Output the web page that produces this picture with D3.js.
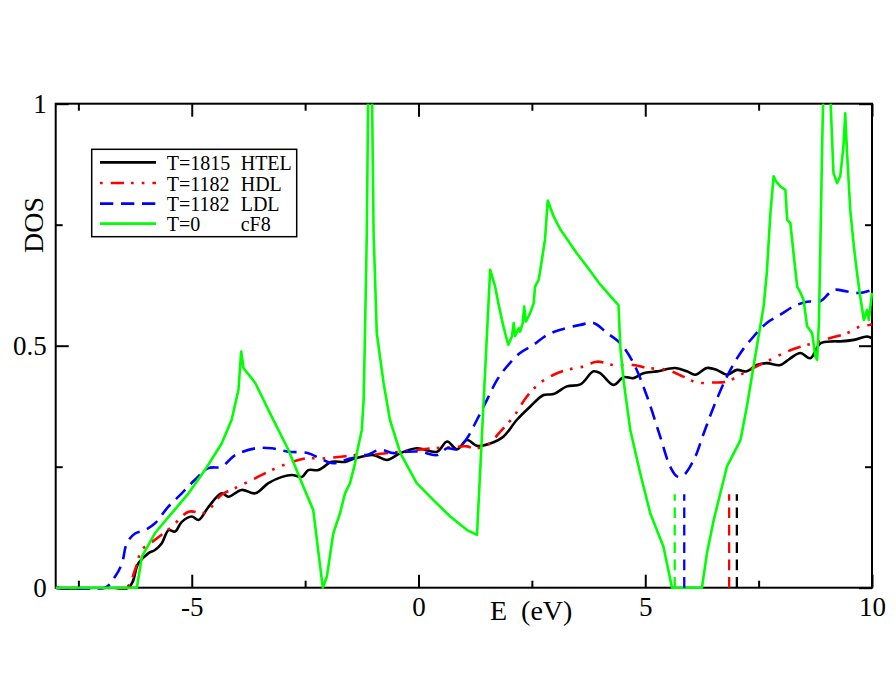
<!DOCTYPE html>
<html><head><meta charset="utf-8">
<script src="https://cdn.jsdelivr.net/npm/d3@7/dist/d3.min.js"></script>
<style>
html,body{margin:0;padding:0;background:#fff;}
svg{display:block;}
text{font-family:"Liberation Serif","Times New Roman",serif;fill:#000;}
</style></head>
<body>
<svg id="chart" width="896" height="692"></svg>
<script>
// ---- data ----
const htelE   = [-8,-6.4,-6.18,-5.96,-5.81,-5.66,-5.51,-5.37,-5.22,-5.0,-4.85,-4.63,-4.34,-4.19,-3.9,-3.6,-3.31,-3.01,-2.79,-2.57,-2.43,-2.21,-1.91,-1.62,-1.40,-0.99,-0.70,-0.40,-0.04,0.41,0.63,0.85,1.07,1.29,1.58,1.87,2.17,2.46,2.76,2.98,3.27,3.57,3.86,4.01,4.30,4.52,4.74,4.96,5.26,5.66,5.92,6.10,6.36,6.58,6.80,7.02,7.24,7.46,7.68,7.98,8.20,8.42,8.64,8.86,9.15,9.30,9.60,9.89,10.0];
const htelDOS = [0,0,0.05,0.071,0.078,0.092,0.119,0.116,0.136,0.147,0.14,0.167,0.195,0.188,0.202,0.195,0.216,0.229,0.233,0.229,0.243,0.243,0.26,0.26,0.267,0.274,0.264,0.278,0.288,0.281,0.302,0.286,0.305,0.293,0.298,0.312,0.347,0.374,0.398,0.40,0.416,0.42,0.447,0.443,0.419,0.435,0.433,0.443,0.447,0.454,0.447,0.44,0.454,0.45,0.44,0.45,0.447,0.46,0.464,0.46,0.474,0.485,0.474,0.505,0.509,0.509,0.512,0.519,0.515];

const hdlE   = [-8,-6.45,-6.25,-6.10,-5.81,-5.44,-5.07,-4.71,-4.34,-3.97,-3.60,-3.24,-2.87,-2.50,-2.13,-1.77,-1.40,-1.14,-0.40,0.33,0.70,1.07,1.21,1.51,1.80,2.10,2.39,2.68,2.98,3.27,3.64,3.93,4.30,4.74,5.04,5.48,5.84,6.14,6.51,6.80,7.10,7.39,7.76,8.13,8.42,8.71,9.08,9.45,9.74,9.96,10];
const hdlDOS = [0,0,0.037,0.078,0.099,0.126,0.157,0.155,0.192,0.209,0.226,0.243,0.257,0.267,0.267,0.27,0.274,0.274,0.281,0.288,0.29,0.292,0.288,0.294,0.322,0.354,0.395,0.423,0.44,0.45,0.457,0.467,0.46,0.46,0.454,0.45,0.436,0.424,0.424,0.426,0.44,0.454,0.471,0.488,0.498,0.505,0.516,0.526,0.54,0.543,0.545];

const ldlE   = [-8,-6.91,-6.69,-6.54,-6.43,-6.25,-6.03,-5.81,-5.52,-5.22,-4.93,-4.63,-4.34,-4.04,-3.60,-3.24,-2.87,-2.43,-2.17,-1.88,-1.51,-1.14,-0.85,-0.55,-0.26,0.04,0.41,0.63,0.85,1.07,1.29,1.51,1.73,1.95,2.24,2.54,2.83,3.13,3.57,3.86,4.16,4.45,4.74,5.04,5.33,5.55,5.70,5.84,6.07,6.29,6.51,6.80,7.10,7.39,7.68,7.98,8.27,8.57,8.86,9.15,9.45,9.74,10];
const ldlDOS = [0,0,0.023,0.05,0.092,0.112,0.119,0.133,0.167,0.195,0.223,0.247,0.25,0.274,0.288,0.288,0.281,0.278,0.267,0.257,0.267,0.274,0.285,0.278,0.281,0.281,0.274,0.288,0.286,0.309,0.347,0.388,0.429,0.457,0.485,0.502,0.522,0.533,0.543,0.547,0.526,0.505,0.464,0.395,0.312,0.25,0.23,0.232,0.264,0.319,0.374,0.436,0.485,0.519,0.547,0.564,0.581,0.591,0.592,0.615,0.612,0.609,0.615];

const cf8E   = [-8,-6.21,-6.10,-5.81,-5.44,-5.07,-4.71,-4.34,-4.12,-3.97,-3.91,-3.86,-3.60,-3.24,-2.87,-2.57,-2.35,-2.32,-2.19,-2.11,-2.02,-1.88,-1.73,-1.62,-1.51,-1.40,-1.36,-1.25,-1.21,-1.18,-1.14,-1.07,-0.99,-0.92,-0.77,-0.63,-0.40,-0.04,0.33,0.70,1.07,1.29,1.58,1.69,1.76,1.84,1.91,1.98,2.06,2.10,2.13,2.21,2.24,2.30,2.33,2.37,2.46,2.54,2.57,2.65,2.72,2.79,2.85,2.98,3.13,3.49,3.71,4.01,4.30,4.41,4.45,4.52,4.67,4.89,5.11,5.40,5.59,6.25,6.36,6.51,6.80,7.10,7.24,7.46,7.61,7.68,7.76,7.83,7.88,7.98,8.09,8.13,8.20,8.27,8.35,8.42,8.49,8.57,8.68,8.75,8.79,8.83,8.87,8.90,8.98,9.15,9.23,9.30,9.37,9.41,9.45,9.52,9.60,9.67,9.74,9.82,9.89,9.93,10.0];
const cf8DOS = [0,0,0.064,0.113,0.154,0.195,0.243,0.298,0.347,0.409,0.488,0.454,0.423,0.354,0.285,0.216,0.167,0.16,0.06,0,0.023,0.112,0.154,0.195,0.216,0.257,0.278,0.326,0.388,0.526,0.733,1.4,0.733,0.526,0.423,0.347,0.278,0.216,0.181,0.147,0.119,0.109,0.657,0.622,0.588,0.553,0.526,0.502,0.519,0.547,0.52,0.536,0.529,0.547,0.581,0.55,0.567,0.588,0.622,0.636,0.677,0.72,0.80,0.767,0.74,0.691,0.664,0.626,0.595,0.584,0.498,0.429,0.326,0.236,0.154,0.085,0,0,0.071,0.14,0.25,0.305,0.374,0.498,0.581,0.65,0.774,0.85,0.84,0.829,0.822,0.76,0.753,0.691,0.622,0.61,0.595,0.54,0.526,0.478,0.471,0.55,0.75,0.91,1.25,0.857,0.836,0.85,0.912,0.98,0.898,0.781,0.705,0.65,0.602,0.553,0.574,0.553,0.609];

const fermiE = [5.65, 5.86, 6.85, 7.02];
const fermiColors = ["#00ff00", "#0000ff", "#ff0000", "#000000"];
const fermiTop = 0.193;

const seriesLabels = ["T=1815", "T=1182", "T=1182", "T=0"];
const seriesPhase  = ["HTEL", "HDL", "LDL", "cF8"];
const seriesColors = ["#000000", "#ff0000", "#0000ff", "#00ff00"];
const seriesDash   = [null, "13.3,7,2.7,8,2.7,8", "13.3,7.7", null];

const xMajorTicks = [-5, 0, 5, 10];
const xMinorTicks = [-7.5, -2.5, 2.5, 7.5];
const xTickLabels = ["-5", "0", "5", "10"];
const yMajorTicks = [0, 0.5, 1];
const yMinorTicks = [0.25, 0.75];
const yTickLabels = ["0", "0.5", "1"];
const xLabel = "E  (eV)";
const yLabel = "DOS";

// ---- layout ----
const L = 55.7, R = 872, T = 103.7, B = 587.7;
const svg = d3.select("#chart");
const x = d3.scaleLinear().domain([-8, 10]).range([L, R]);
const y = d3.scaleLinear().domain([0, 1]).range([B, T]);

svg.append("rect").attr("width", 896).attr("height", 692).attr("fill", "#fff");

svg.append("defs").append("clipPath").attr("id", "clip")
  .append("rect").attr("x", L - 2).attr("y", T).attr("width", R - L + 4).attr("height", B - T + 2);

// axes
const fs = 27;
function styleAxis(g) {
  g.select(".domain").remove();
  g.selectAll(".tick line").attr("stroke", "#000").attr("stroke-width", 2);
  g.selectAll("text").attr("font-size", fs).attr("font-family", "Liberation Serif").attr("fill", "#000");
}
svg.append("g").attr("transform", `translate(0,${B})`)
  .call(d3.axisBottom(x).tickValues(xMajorTicks).tickSize(-13).tickPadding(9).tickFormat((d, i) => xTickLabels[i]))
  .call(styleAxis);
svg.append("g").attr("transform", `translate(0,${B})`)
  .call(d3.axisBottom(x).tickValues(xMinorTicks).tickSize(-7).tickFormat(""))
  .call(styleAxis);
svg.append("g").attr("transform", `translate(0,${T})`)
  .call(d3.axisTop(x).tickValues(xMajorTicks).tickSize(-13).tickFormat(""))
  .call(styleAxis);
svg.append("g").attr("transform", `translate(0,${T})`)
  .call(d3.axisTop(x).tickValues(xMinorTicks).tickSize(-7).tickFormat(""))
  .call(styleAxis);
svg.append("g").attr("transform", `translate(${L},0)`)
  .call(d3.axisLeft(y).tickValues(yMajorTicks).tickSize(-13).tickPadding(9).tickFormat((d, i) => yTickLabels[i]))
  .call(styleAxis);
svg.append("g").attr("transform", `translate(${L},0)`)
  .call(d3.axisLeft(y).tickValues(yMinorTicks).tickSize(-7).tickFormat(""))
  .call(styleAxis);
svg.append("g").attr("transform", `translate(${R},0)`)
  .call(d3.axisRight(y).tickValues(yMajorTicks).tickSize(-13).tickFormat(""))
  .call(styleAxis);
svg.append("g").attr("transform", `translate(${R},0)`)
  .call(d3.axisRight(y).tickValues(yMinorTicks).tickSize(-7).tickFormat(""))
  .call(styleAxis);

// frame
svg.append("rect").attr("x", L).attr("y", T).attr("width", R - L).attr("height", B - T)
  .attr("fill", "none").attr("stroke", "#000").attr("stroke-width", 2);

// curves
const plot = svg.append("g").attr("clip-path", "url(#clip)");
const lineSmooth = d3.line().x(d => x(d[0])).y(d => y(d[1])).curve(d3.curveCatmullRom.alpha(0.5));
const lineLinear = d3.line().x(d => x(d[0])).y(d => y(d[1]));
const zip = (a, b) => a.map((v, i) => [v, b[i]]);

const series = [
  {e: htelE, d: htelDOS, gen: lineSmooth},
  {e: hdlE, d: hdlDOS, gen: lineSmooth},
  {e: ldlE, d: ldlDOS, gen: lineSmooth},
  {e: cf8E, d: cf8DOS, gen: lineLinear}
];
series.forEach((s, i) => {
  plot.append("path").datum(zip(s.e, s.d))
    .attr("d", s.gen)
    .attr("fill", "none")
    .attr("stroke", seriesColors[i])
    .attr("stroke-width", 2.6)
    .attr("stroke-linejoin", "round")
    .attr("stroke-dasharray", seriesDash[i]);
});

// Fermi level markers
plot.selectAll("line.fermi").data(fermiE).enter().append("line")
  .attr("class", "fermi")
  .attr("x1", d => x(d)).attr("x2", d => x(d))
  .attr("y1", y(0)).attr("y2", y(fermiTop))
  .attr("stroke", (d, i) => fermiColors[i])
  .attr("stroke-width", 2.3)
  .attr("stroke-dasharray", "10.7,6.7");

// axis titles
svg.append("text").attr("x", 490).attr("y", 620)
  .attr("font-size", 28).attr("xml:space", "preserve").style("white-space", "pre").text(xLabel);
svg.append("text").attr("transform", "translate(43,225) rotate(-90)")
  .attr("text-anchor", "middle").attr("font-size", 28).text(yLabel);

// legend
const lg = svg.append("g");
lg.append("rect").attr("x", 91.7).attr("y", 149.3).attr("width", 205).attr("height", 87.4)
  .attr("fill", "#fff").attr("stroke", "#000").attr("stroke-width", 1.5);
const rowY = [162.3, 183, 203.7, 223.7];
seriesLabels.forEach((lab, i) => {
  lg.append("line").attr("x1", 100).attr("x2", 156).attr("y1", rowY[i]).attr("y2", rowY[i])
    .attr("stroke", seriesColors[i]).attr("stroke-width", 2.7)
    .attr("stroke-dasharray", seriesDash[i])
    .attr("stroke-dashoffset", i === 1 ? 31 : 0);
  lg.append("text").attr("x", 166.7).attr("y", rowY[i] + 7.7).attr("font-size", 20).text(lab);
  lg.append("text").attr("x", 240.7).attr("y", rowY[i] + 7.7).attr("font-size", 20).text(seriesPhase[i]);
});
</script>
</body></html>
